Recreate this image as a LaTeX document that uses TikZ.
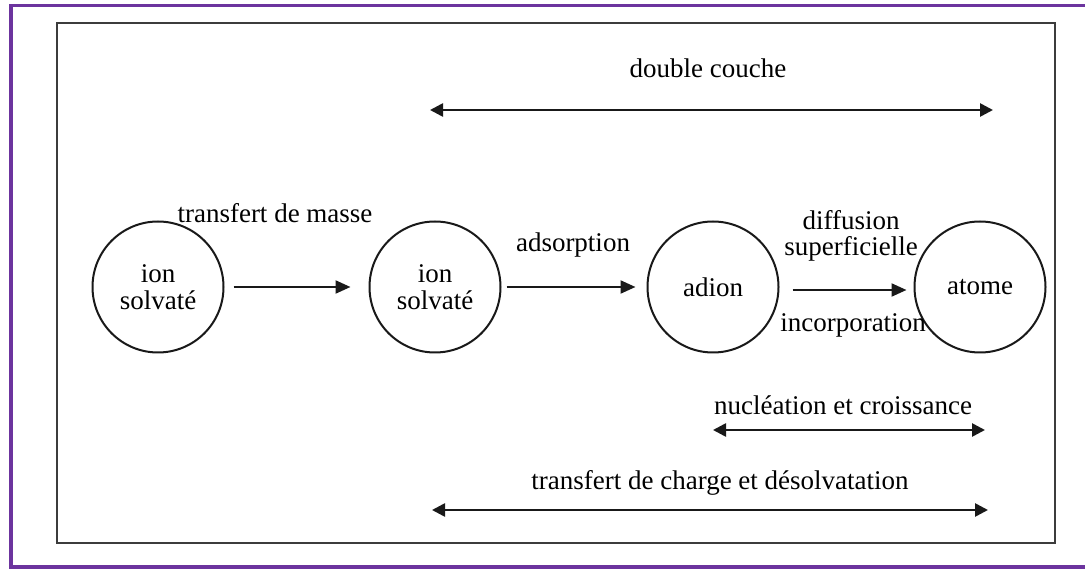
\documentclass[tikz,border=0pt]{standalone}
\usepackage{fontspec}
\setmainfont{Liberation Serif}
\usetikzlibrary{arrows.meta}
\definecolor{framepurple}{RGB}{108,52,158}
\definecolor{boxgray}{RGB}{60,60,60}
\begin{document}
\begin{tikzpicture}[x=1pt,y=-1pt,
  every node/.style={font=\fontsize{27}{32}\selectfont, text=black},
  stage/.style={circle, draw=black!90, line width=2pt, minimum size=131pt, inner sep=0pt, align=center},
  lbl/.style={inner sep=0pt, align=center},
  flow/.style={line width=2.2pt, draw=black!90, -{Triangle[length=15pt,width=13pt]}},
  span/.style={line width=2.6pt, draw=black!90, {Triangle[length=13pt,width=13pt]}-{Triangle[length=13pt,width=13pt]}}
]
\clip (0,0) rectangle (1085,569);
\fill[white] (0,0) rectangle (1085,569);
% frames
\draw[framepurple, line width=3.8pt] (11,5.5) rectangle (1100,567);
\draw[boxgray, line width=2.2pt] (57,23) rectangle (1055,543);

% circles
\node[stage] (c1) at (158,287) {ion\\[-5pt]solvaté};
\node[stage] (c2) at (435,287) {ion\\[-5pt]solvaté};
\node[stage] (c3) at (713,287) {adion};
\node[stage] (c4) at (980,287) {atome};

% flow arrows
\draw[flow] ([xshift=9pt]c1.east) -- ([xshift=-18pt]c2.west);
\draw[flow] ([xshift=5pt]c2.east) -- ([xshift=-11pt]c3.west);
\draw[flow] ([xshift=13pt,yshift=-3pt]c3.east) -- ([xshift=-7pt,yshift=-3pt]c4.west);

% flow labels
\node[lbl] (tm) at (275,213) {transfert de masse};
\node[lbl] (ads) at (573,245) {adsorption};
\node[lbl] (dif) at (851,236) {diffusion\\[-6pt]superficielle};
\node[lbl] (inc) at (853,325) {incorporation};

% spans
\coordinate (dcL) at (430,110);
\coordinate (dcR) at (993,110);
\draw[span] (dcL) -- (dcR);
\node[lbl] (dc) at (708,68) {double couche};

\coordinate (ncL) at (713,430);
\coordinate (ncR) at (985,430);
\draw[span] (ncL) -- (ncR);
\node[lbl] (nc) at (843,405) {nucléation et croissance};

\coordinate (tcL) at (432,510);
\coordinate (tcR) at (988,510);
\draw[span] (tcL) -- (tcR);
\node[lbl] (tc) at (720,483) {transfert de charge et désolvatation};
\end{tikzpicture}
\end{document}
